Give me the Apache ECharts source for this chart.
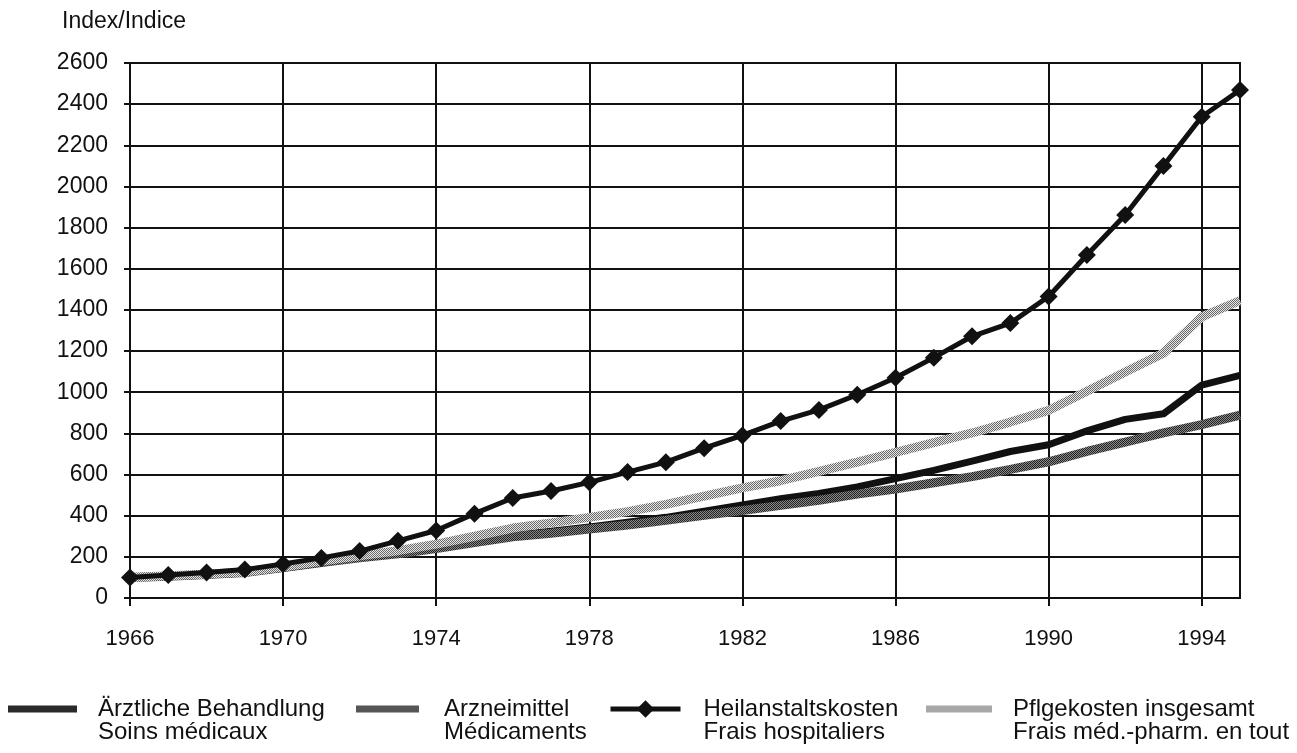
<!DOCTYPE html>
<html><head><meta charset="utf-8">
<script src="https://cdn.jsdelivr.net/npm/echarts@6/dist/echarts.min.js"></script>
<style>html,body{margin:0;padding:0;background:#fff}#c{width:1297px;height:753px}</style>
</head><body><div id="c"></div>
<script>
const years = ['1966','1967','1968','1969','1970','1971','1972','1973','1974','1975','1976','1977','1978','1979','1980','1981','1982','1983','1984','1985','1986','1987','1988','1989','1990','1991','1992','1993','1994','1995'];
const aerztliche = [100,105,112,122,145,170,195,218,245,278,305,325,345,368,392,422,452,482,508,540,580,620,665,712,745,812,868,895,1035,1082];
const arzneimittel = [100,106,114,124,148,172,195,215,240,270,298,315,335,355,378,402,425,450,475,505,530,560,590,625,662,712,758,802,843,889];
const heilanstalt = [100,112,124,138,165,195,228,278,328,410,486,520,562,612,660,728,790,860,914,988,1070,1168,1272,1336,1465,1667,1861,2100,2339,2469];
const pflegekosten = [100,108,116,126,150,180,205,230,262,300,340,365,392,420,455,495,535,570,615,660,708,755,802,855,912,1005,1098,1190,1366,1445];
const yTicks = {min:0, max:2600, step:200};
const names = ['Ärztliche Behandlung\nSoins médicaux','Arzneimittel\nMédicaments','Heilanstaltskosten\nFrais hospitaliers','Pflgekosten insgesamt\nFrais méd.-pharm. en tout'];

function pattern(a, b){
  const cv = document.createElement('canvas'); cv.width = 2; cv.height = 2;
  const ctx = cv.getContext('2d');
  ctx.fillStyle = b; ctx.fillRect(0,0,2,2);
  ctx.fillStyle = a; ctx.fillRect(0,0,1,1); ctx.fillRect(1,1,1,1);
  return {image: cv, repeat: 'repeat'};
}
const patArz = pattern('#222', '#8a8a8a');
const patPfl = pattern('#6a6a6a', '#e6e6e6');
const patAer = pattern('#000', '#555');

const FONT = '"Liberation Sans", Arial, sans-serif';
const every4 = (i) => i % 4 === 0;
const chart = echarts.init(document.getElementById('c'), null, {renderer:'canvas'});
function legendFor(left, itemWidth, itemHeight, pad, data, extra){
  return Object.assign({
    orient:'horizontal', itemGap:0, padding:0, top:674, left:left,
    itemWidth:itemWidth, itemHeight:itemHeight, data:data,
    formatter: (n) => '{s| }\n' + n.split('\n').map(l => '{t|' + l + '}').join('\n'),
    textStyle:{fontFamily:FONT, fontSize:24, color:'#111', lineHeight:23,
      rich:{s:{fontSize:24, lineHeight:23}, t:{fontFamily:FONT, fontSize:24, color:'#111', lineHeight:23, padding:[0,0,0,pad]}}}
  }, extra || {});
}
chart.setOption({
  animation:false,
  backgroundColor:'#fff',
  title:{text:'Index/Indice', left:57, top:5, textStyle:{fontFamily:FONT, fontSize:23, fontWeight:'normal', color:'#111'}},
  grid:{left:130, right:57, top:63, bottom:155, show:true, borderColor:'#111', borderWidth:2},
  xAxis:{type:'category', data:years, boundaryGap:false,
    axisLine:{lineStyle:{color:'#111', width:2}},
    axisTick:{show:true, interval:every4, length:8, lineStyle:{color:'#111', width:2}},
    axisLabel:{interval:every4, margin:30, fontFamily:FONT, fontSize:22, color:'#111'},
    splitLine:{show:true, interval:every4, lineStyle:{color:'#111', width:2}}},
  yAxis:{type:'value', min:yTicks.min, max:yTicks.max, interval:yTicks.step,
    axisLine:{show:true, lineStyle:{color:'#111', width:2}},
    axisTick:{show:true, length:6, lineStyle:{color:'#111', width:2}},
    axisLabel:{margin:22, fontFamily:FONT, fontSize:23, color:'#111', formatter:(v) => String(v)},
    splitLine:{show:true, lineStyle:{color:'#111', width:2}}},
  legend:[
    legendFor(8, 69, 7, 16, [{name:names[0], icon:'rect', itemStyle:{color:patAer}}]),
    legendFor(356, 63, 7, 20, [{name:names[1], icon:'rect'}]),
    legendFor(608, 70, 22, 18, [names[2]], {lineStyle:{width:5}}),
    legendFor(926, 66, 7, 16, [{name:names[3], icon:'rect'}])
  ],
  series:[
    {name:names[0], type:'line', data:aerztliche, showSymbol:false, symbol:'none', z:2,
      lineStyle:{color:'#111', width:7, join:'round'}, itemStyle:{color:'#111'}},
    {name:names[1], type:'line', data:arzneimittel, showSymbol:false, symbol:'none', z:3,
      lineStyle:{color:patArz, width:9}, itemStyle:{color:patArz}},
    {name:names[3], type:'line', data:pflegekosten, showSymbol:false, symbol:'none', z:4,
      lineStyle:{color:patPfl, width:9}, itemStyle:{color:patPfl}},
    {name:names[2], type:'line', data:heilanstalt, symbol:'diamond', symbolSize:18, showSymbol:true, z:5,
      lineStyle:{color:'#111', width:5}, itemStyle:{color:'#111'}}
  ]
});
</script></body></html>
